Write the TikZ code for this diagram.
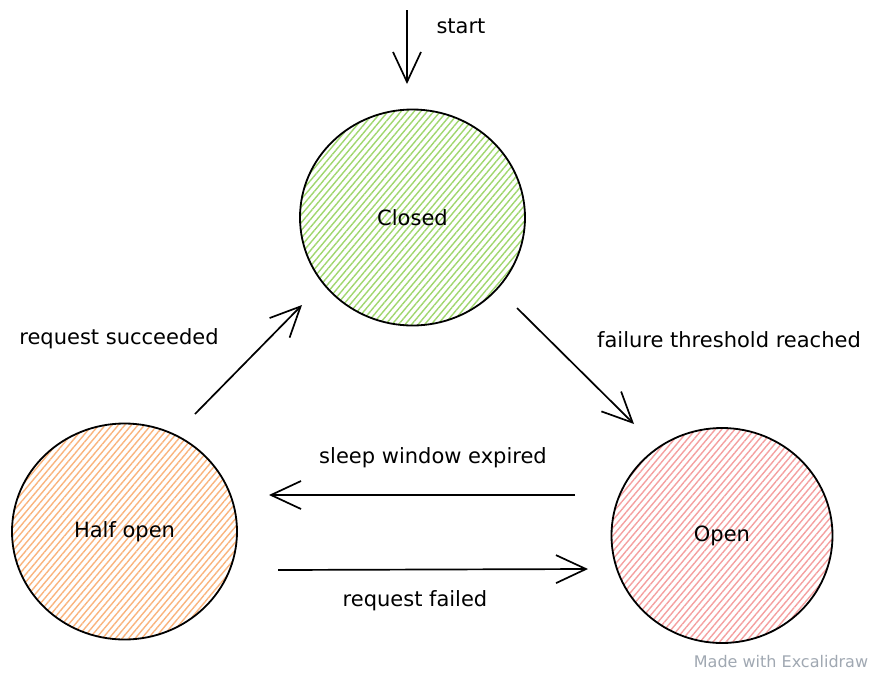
\documentclass[tikz,border=0pt]{standalone}
\usepackage{fontspec}
\setmainfont{DejaVu Sans}
\usetikzlibrary{shapes.geometric,patterns.meta,arrows.meta}
\definecolor{hgreen}{RGB}{160,215,110}
\definecolor{horange}{RGB}{250,180,125}
\definecolor{hred}{RGB}{245,160,160}
\definecolor{credit}{RGB}{160,168,178}
\begin{document}
\begin{tikzpicture}[x=1pt,y=-1pt,
  state/.style={ellipse, draw=black, line width=1.8pt, minimum width=225pt,
    minimum height=216pt, inner sep=0pt, font=\fontsize{21}{25}\selectfont},
  hatch/.style={pattern={Lines[angle=50,distance=5pt,line width=1.4pt]}, pattern color=#1},
  lbl/.style={font=\fontsize{21}{25}\selectfont, inner sep=0pt},
  conn/.style={line width=1.7pt, -{Straight Barb[length=30pt,width=28pt,line width=1.7pt]}}]
\useasboundingbox[fill=white] (0,0) rectangle (880,675);
% states
\node[state, hatch=hgreen] (closed) at (412.5,217.5) {Closed};
\node[state, hatch=horange] (half) at (124.5,531.5) {Half open};
\node[state, hatch=hred, minimum width=221pt, minimum height=215pt] (open) at (722,535.5) {Open};
% connector end points
\coordinate (st0) at (407,10);
\coordinate (st1) at (407,84);
\coordinate (a0) at (195,414);
\coordinate (a1) at (302,305);
\coordinate (b0) at (517,308);
\coordinate (b1) at (634,424);
\coordinate (c0) at (575,495);
\coordinate (c1) at (269,495);
\coordinate (d0) at (278,570);
\coordinate (d1) at (588,569);
% connectors
\draw[conn] (st0) -- (st1);
\draw[conn] (a0) -- (a1);
\draw[conn] (b0) -- (b1);
\draw[conn] (c0) -- (c1);
\draw[conn] (d0) -- (d1);
% labels
\node[lbl] (tstart) at (461,26) {start};
\node[lbl] (tsucc) at (119,339) {request succeeded};
\node[lbl] (tfail) at (729,340) {failure threshold reached};
\node[lbl] (tsleep) at (433,458) {sleep window expired};
\node[lbl] (trf) at (415,601) {request failed};
\node[font=\fontsize{16}{19}\selectfont, text=credit, inner sep=0pt] (made) at (781,662) {Made with Excalidraw};
\end{tikzpicture}
\end{document}
